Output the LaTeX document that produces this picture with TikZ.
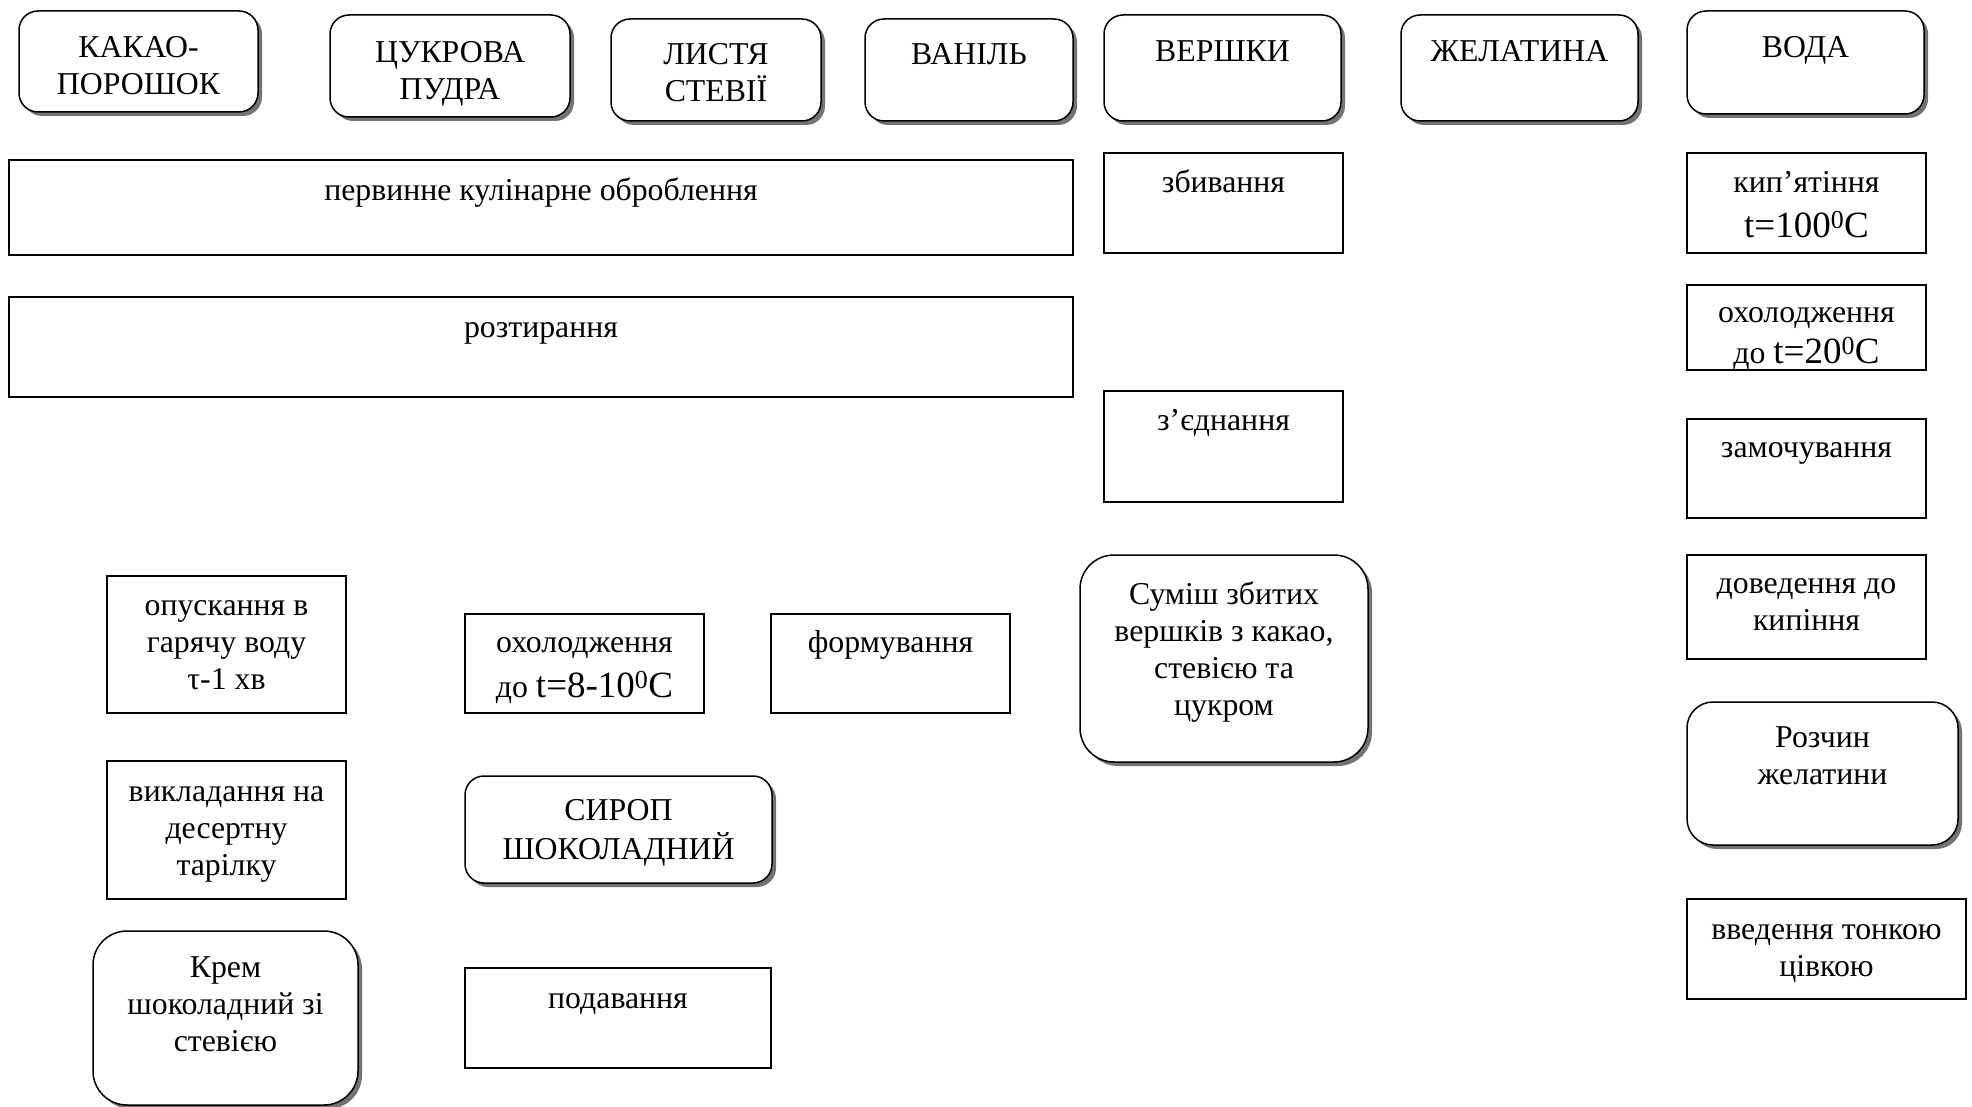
\documentclass[tikz,border=0pt]{standalone}
\usepackage{fontspec}
\setmainfont{Liberation Serif}
\usetikzlibrary{shadows}
\newcommand\bigt[1]{{\fontsize{37}{42}\selectfont #1}}
\newcommand\bx[8]{%
  \node[#1, minimum width={(#5)-(#3)}, minimum height={(#6)-(#4)}] (#2) at ({((#3)+(#5))/2},{((#4)+(#6))/2}) {};
  \node[txt] (#2t) at ({((#3)+(#5))/2},#7) {\strut #8};
}
\begin{document}
\begin{tikzpicture}[x=1pt,y=-1pt,
  boxst/.style={draw, line width=1.5pt, fill=white, inner sep=0pt, outer sep=0pt},
  rbox/.style={boxst, rounded corners=19pt, drop shadow={shadow xshift=4pt, shadow yshift=-4pt, fill=black!55, opacity=1}},
  rboxm/.style={rbox, rounded corners=26pt},
  rboxl/.style={rbox, rounded corners=34pt},
  txt/.style={align=center, inner sep=0pt, font=\fontsize{31.8}{37}\selectfont, anchor=north},
]
\useasboundingbox (0,0) rectangle (1972,1107);
% top row: ingredients
\bx{rbox}{kakao}{19}{11}{258}{112}{31}{КАКАО-\\ПОРОШОК}
\bx{rbox}{tsukor}{330}{15}{570}{117}{36}{ЦУКРОВА\\ПУДРА}
\bx{rbox}{stevia}{611}{19}{821}{121}{38}{ЛИСТЯ\\СТЕВІЇ}
\bx{rbox}{vanil}{865}{19}{1073}{121}{38}{ВАНІЛЬ}
\bx{rbox}{vershky}{1104}{15}{1341}{121}{35}{ВЕРШКИ}
\bx{rbox}{zhelatyna}{1401}{15}{1638}{121}{35}{ЖЕЛАТИНА}
\bx{rbox}{voda}{1687}{11}{1924}{114}{31}{ВОДА}
% processes
\bx{boxst}{pervynne}{9}{160}{1073}{255}{174}{первинне кулінарне оброблення}
\bx{boxst}{zbyvannia}{1104}{153}{1343}{253}{166}{збивання}
\bx{boxst}{kypiatinnia}{1687}{153}{1926}{253}{166}{кип’ятіння\\[7pt]\bigt{t=100\textsuperscript{0}C}}
\bx{boxst}{roztyrannia}{9}{297}{1073}{397}{311}{розтирання}
\bx{boxst}{okholodzh}{1687}{285}{1926}{370}{296}{охолодження\\[3pt]до \bigt{t=20\textsuperscript{0}C}}
\bx{boxst}{zjednannia}{1104}{391}{1343}{502}{404}{з’єднання}
\bx{boxst}{zamochuv}{1687}{419}{1926}{518}{431}{замочування}
\bx{boxst}{dovedennia}{1687}{555}{1926}{659}{567}{доведення до\\кипіння}
\bx{rboxl}{sumish}{1080}{555}{1368}{762}{578}{Суміш збитих\\вершків з какао,\\стевією та\\цукром}
\bx{rboxm}{rozchyn}{1687}{702}{1958}{845}{721}{Розчин\\желатини}
\bx{boxst}{vvedennia}{1687}{899}{1966}{999}{913}{введення тонкою\\цівкою}
\bx{boxst}{opuskannia}{107}{576}{346}{713}{589}{опускання в\\гарячу воду\\τ-1 хв}
\bx{boxst}{okholodzhdva}{465}{614}{704}{713}{626}{охолодження\\[7pt]до \bigt{t=8-10\textsuperscript{0}C}}
\bx{boxst}{formuv}{771}{614}{1010}{713}{626}{формування}
\bx{boxst}{vykladannia}{107}{761}{346}{899}{775}{викладання на\\десертну\\тарілку}
\bx{rbox}{syrop}{465}{776}{772}{883}{794}{СИРОП\\ШОКОЛАДНИЙ}
\bx{rboxl}{krem}{93}{931}{358}{1105}{951}{Крем\\шоколадний зі\\стевією}
\bx{boxst}{podavannia}{465}{968}{771}{1068}{982}{подавання}
\end{tikzpicture}
\end{document}
